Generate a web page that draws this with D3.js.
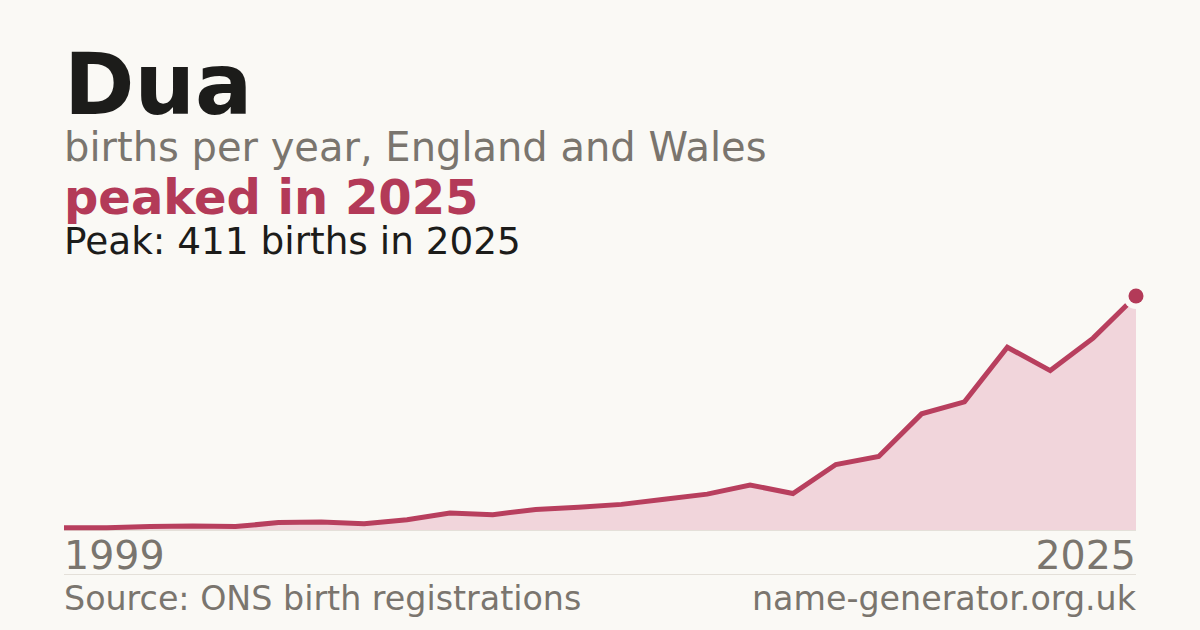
<!DOCTYPE html>
<html><head><meta charset="utf-8">
<script src="https://cdn.jsdelivr.net/npm/d3@7"></script>
<style>
html,body{margin:0;padding:0;background:#faf9f5;}
svg{display:block;font-family:"DejaVu Sans",sans-serif;}
</style></head>
<body>
<script>
const years = [1999,2001,2002,2003,2004,2005,2006,2007,2008,2009,2010,2011,2012,2013,2014,2015,2016,2017,2018,2019,2020,2021,2022,2023,2024,2025];
const births = [4,4,6,7,6,13,14,11,18,30,27,36,40,45,54,63,79,64,115,129,204,225,321,280,337,411];
const axisLabels = ["1999","2025"];
const title = "Dua";
const subtitle = "births per year, England and Wales";
const headline = "peaked in 2025";
const peakText = "Peak: 411 births in 2025";
const source = "Source: ONS birth registrations";
const site = "name-generator.org.uk";

const W = 1200, H = 630;
const svg = d3.select("body").append("svg").attr("width", W).attr("height", H);
svg.append("rect").attr("width", W).attr("height", H).attr("fill", "#faf9f5");

const x = d3.scalePoint().domain(years).range([64, 1136]);
const y = d3.scaleLinear().domain([0, d3.max(births)]).range([530, 296]);
const data = years.map((yr, i) => ({yr, v: births[i]}));

svg.append("text").attr("x", 64).attr("y", 114).attr("font-size", 85).attr("font-weight", "bold").attr("fill", "#1c1c1a").text(title);
svg.append("text").attr("x", 64).attr("y", 161).attr("font-size", 40).attr("fill", "#7a756e").text(subtitle);
svg.append("text").attr("x", 64).attr("y", 214).attr("font-size", 48).attr("font-weight", "bold").attr("fill", "#b33a58").text(headline);
svg.append("text").attr("x", 64).attr("y", 254).attr("font-size", 37.4).attr("fill", "#1c1c1a").text(peakText);

svg.append("path").datum(data)
  .attr("d", d3.area().x(d => x(d.yr)).y0(y(0)).y1(d => y(d.v)))
  .attr("fill", "#f1d5db");
svg.append("line").attr("x1", 64).attr("x2", 1136).attr("y1", 530.5).attr("y2", 530.5).attr("stroke", "#e4e0d9").attr("stroke-width", 1);
svg.append("path").datum(data)
  .attr("d", d3.line().x(d => x(d.yr)).y(d => y(d.v)))
  .attr("fill", "none").attr("stroke", "#b83f5e").attr("stroke-width", 5).attr("stroke-linejoin", "miter");

const last = data[data.length - 1];
svg.append("circle").attr("cx", x(last.yr)).attr("cy", y(last.v)).attr("r", 13).attr("fill", "#faf9f5");
svg.append("circle").attr("cx", x(last.yr)).attr("cy", y(last.v)).attr("r", 7.5).attr("fill", "#b33a58");

svg.append("text").attr("x", 64).attr("y", 569).attr("font-size", 39.5).attr("fill", "#7a756e").text(axisLabels[0]);
svg.append("text").attr("x", 1136).attr("y", 569).attr("text-anchor", "end").attr("font-size", 39.5).attr("fill", "#7a756e").text(axisLabels[1]);
svg.append("line").attr("x1", 64).attr("x2", 1136).attr("y1", 574.5).attr("y2", 574.5).attr("stroke", "#e4e0d9").attr("stroke-width", 1);
svg.append("text").attr("x", 64).attr("y", 610).attr("font-size", 33.3).attr("fill", "#7a756e").text(source);
svg.append("text").attr("x", 1136).attr("y", 610).attr("text-anchor", "end").attr("font-size", 33.3).attr("fill", "#7a756e").text(site);
</script>
</body></html>
